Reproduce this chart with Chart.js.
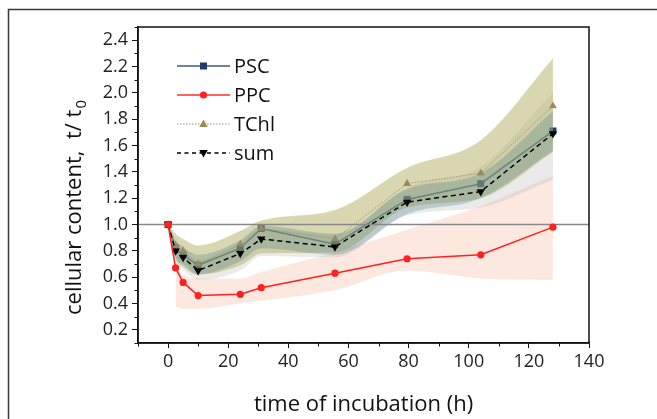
<!DOCTYPE html>
<html>
<head>
<meta charset="utf-8">
<title>cellular content vs time of incubation</title>
<script src="https://cdn.jsdelivr.net/npm/chart.js@4.4.1/dist/chart.umd.min.js"></script>
<style>
html, body { margin: 0; padding: 0; background: #fff; }
#wrap { width: 657px; height: 419px; position: relative; }
</style>
</head>
<body>
<div id="wrap"><canvas id="contentChart"></canvas></div>
<script>
// sampling times (h)
const hours = [0, 2.5, 5, 10, 24, 31, 55.5, 79.5, 104, 128];

// mean values, relative to t0
const psc  = [1.00, 0.82, 0.77, 0.69, 0.82, 0.97, 0.85, 1.19, 1.31, 1.71];
const ppc  = [1.00, 0.67, 0.56, 0.46, 0.47, 0.52, 0.63, 0.74, 0.77, 0.98];
const tchl = [1.00, 0.84, 0.80, 0.70, 0.85, 0.97, 0.89, 1.31, 1.39, 1.90];
const sum  = [1.00, 0.80, 0.75, 0.65, 0.78, 0.89, 0.83, 1.17, 1.25, 1.69];

// shaded envelopes (upper / lower)
const pscHigh  = [1.00, 0.88, 0.83, 0.77, 0.88, 0.99, 0.93, 1.27, 1.39, 1.86];
const pscLow   = [1.00, 0.75, 0.70, 0.62, 0.72, 0.82, 0.77, 1.08, 1.20, 1.56];
const tchlHigh = [1.00, 0.93, 0.89, 0.84, 0.95, 1.03, 1.11, 1.43, 1.64, 2.26];
const tchlLow  = [1.00, 0.74, 0.68, 0.62, 0.69, 0.78, 0.79, 1.13, 1.20, 1.55];
const sumHigh  = [1.00, 0.86, 0.81, 0.73, 0.86, 0.97, 0.92, 1.28, 1.44, 2.00];
const sumLow   = [1.00, 0.72, 0.66, 0.58, 0.65, 0.76, 0.75, 1.07, 1.13, 1.34];
const ppcBandHours = [2.5, 5, 10, 24, 31, 55.5, 79.5, 104, 128];
const ppcHigh  = [0.67, 0.62, 0.59, 0.59, 0.64, 0.79, 0.96, 1.14, 1.37];
const ppcLow   = [0.38, 0.36, 0.36, 0.40, 0.42, 0.50, 0.65, 0.59, 0.58];

const refLevel = 1.0;
const xRange = [-10, 140];
const yRange = [0.1, 2.5];
const xTicks = [0, 20, 40, 60, 80, 100, 120, 140];
const xMinor = [-10, 10, 30, 50, 70, 90, 110, 130];
const yTicks = [0.2, 0.4, 0.6, 0.8, 1.0, 1.2, 1.4, 1.6, 1.8, 2.0, 2.2, 2.4];
const yMinor = [0.1, 0.3, 0.5, 0.7, 0.9, 1.1, 1.3, 1.5, 1.7, 1.9, 2.1, 2.3, 2.5];

const FONT = "'Open Sans', 'DejaVu Sans', sans-serif";

function pts(xs, ys) {
    return xs.map((x, i) => ({ x: x, y: ys[i] }));
}

function band(name, xs, hi, lo, color, order) {
    const common = {
        pointRadius: 0,
        borderWidth: 0,
        cubicInterpolationMode: 'monotone',
        order: order
    };
    return [
        Object.assign({ label: name + ' hi', data: pts(xs, hi), fill: '+1', backgroundColor: color }, common),
        Object.assign({ label: name + ' lo', data: pts(xs, lo), fill: false }, common)
    ];
}

const legendItems = [
    { label: 'PSC',  line: '#3d5a80', width: 1.5, dash: [],         marker: 'square', fill: '#1f3d6e' },
    { label: 'PPC',  line: '#ff3030', width: 1.5, dash: [],         marker: 'circle', fill: '#ff2020' },
    { label: 'TChl', line: '#a8946a', width: 1,   dash: [1.5, 1.5], marker: 'up',     fill: '#9c8a5c' },
    { label: 'sum',  line: '#000000', width: 1.5, dash: [4, 3.5],   marker: 'down',   fill: '#000000' }
];

function drawMarker(ctx, kind, x, y, color) {
    ctx.fillStyle = color;
    ctx.beginPath();
    if (kind === 'square') {
        ctx.rect(x - 3.5, y - 3.5, 7, 7);
    } else if (kind === 'circle') {
        ctx.arc(x, y, 3.6, 0, Math.PI * 2);
    } else if (kind === 'up') {
        ctx.moveTo(x, y - 4.6); ctx.lineTo(x + 4.3, y + 2.9); ctx.lineTo(x - 4.3, y + 2.9);
    } else {
        ctx.moveTo(x, y + 4.6); ctx.lineTo(x + 4.3, y - 2.9); ctx.lineTo(x - 4.3, y - 2.9);
    }
    ctx.closePath();
    ctx.fill();
}

const decorPlugin = {
    id: 'decor',
    beforeDraw(chart) {
        const ctx = chart.ctx;
        ctx.save();
        ctx.fillStyle = '#fff';
        ctx.fillRect(0, 0, chart.width, chart.height);
        ctx.strokeStyle = '#3a3a3a';
        ctx.lineWidth = 1.5;
        ctx.strokeRect(8.5, 9.5, chart.width + 20, chart.height + 20);
        ctx.restore();
    },
    afterDraw(chart) {
        const { ctx, chartArea: a, scales: { x, y } } = chart;
        ctx.save();
        // plot frame
        ctx.strokeStyle = '#111';
        ctx.lineWidth = 1.5;
        ctx.strokeRect(a.left, a.top, a.right - a.left, a.bottom - a.top);
        // minor ticks
        ctx.lineWidth = 1;
        yMinor.forEach(v => {
            const py = Math.round(y.getPixelForValue(v)) + 0.5;
            ctx.beginPath(); ctx.moveTo(a.left - 3.5, py); ctx.lineTo(a.left, py); ctx.stroke();
        });
        xMinor.forEach(v => {
            const px = Math.round(x.getPixelForValue(v)) + 0.5;
            ctx.beginPath(); ctx.moveTo(px, a.bottom); ctx.lineTo(px, a.bottom + 3.5); ctx.stroke();
        });

        // y axis title with subscript
        ctx.fillStyle = '#111';
        ctx.translate(75, 208);
        ctx.rotate(-Math.PI / 2);
        ctx.font = '22px ' + FONT;
        ctx.textBaseline = 'middle';
        const main = 'cellular content,  t/ t';
        const wMain = ctx.measureText(main).width;
        ctx.font = '15px ' + FONT;
        const wSub = ctx.measureText('0').width;
        const start = -(wMain + wSub) / 2;
        ctx.font = '22px ' + FONT;
        ctx.textAlign = 'left';
        ctx.fillText(main, start, 0);
        ctx.font = '15px ' + FONT;
        ctx.fillText('0', start + wMain + 1, 7);
        ctx.setTransform(1, 0, 0, 1, 0, 0);

        // legend
        const rowY = [66, 95, 124, 153];
        legendItems.forEach((it, i) => {
            const ly = rowY[i];
            ctx.strokeStyle = it.line;
            ctx.lineWidth = it.width;
            ctx.setLineDash(it.dash);
            ctx.beginPath(); ctx.moveTo(177, ly); ctx.lineTo(230, ly); ctx.stroke();
            ctx.setLineDash([]);
            drawMarker(ctx, it.marker, 203.5, ly, it.fill);
            ctx.fillStyle = '#111';
            ctx.font = '20px ' + FONT;
            ctx.textAlign = 'left';
            ctx.textBaseline = 'middle';
            ctx.fillText(it.label, 234, ly + 1);
        });
        ctx.restore();
    }
};

const datasets = [].concat(
    band('PPC', ppcBandHours, ppcHigh, ppcLow, 'rgba(250, 190, 165, 0.35)', 10),
    band('sum', hours, sumHigh, sumLow, 'rgba(170, 170, 170, 0.25)', 9),
    [{
        label: 'PSC', data: pts(hours, psc), borderColor: '#3d5a80', borderWidth: 1.5,
        pointStyle: 'rect', pointRadius: 5, pointBackgroundColor: '#1f3d6e', pointBorderWidth: 0,
        fill: false, tension: 0, order: 8
    }],
    band('TChl', hours, tchlHigh, tchlLow, 'rgba(180, 175, 100, 0.5)', 7),
    band('PSC', hours, pscHigh, pscLow, 'rgba(80, 130, 140, 0.3)', 6),
    [{
        label: 'ref', data: [{ x: xRange[0], y: refLevel }, { x: xRange[1], y: refLevel }],
        borderColor: '#888', borderWidth: 1.5, pointRadius: 0, fill: false, order: 5
    }, {
        label: 'TChl', data: pts(hours, tchl), borderColor: '#a8946a', borderWidth: 1, borderDash: [1.5, 1.5],
        pointStyle: 'triangle', pointRadius: 4.6, pointBackgroundColor: '#9c8a5c', pointBorderWidth: 0,
        fill: false, tension: 0, order: 4
    }, {
        label: 'sum', data: pts(hours, sum), borderColor: '#000', borderWidth: 1.5, borderDash: [5, 3.5],
        pointStyle: 'triangle', pointRotation: 180, pointRadius: 4.8, pointBackgroundColor: '#000', pointBorderWidth: 0,
        fill: false, tension: 0, order: 3
    }, {
        label: 'PPC', data: pts(hours, ppc), borderColor: '#ff2020', borderWidth: 1.5,
        pointStyle: 'circle', pointRadius: 3.6, pointBackgroundColor: '#ff2020', pointBorderWidth: 0,
        fill: false, tension: 0, order: 2
    }]
);

new Chart(document.getElementById('contentChart'), {
    type: 'line',
    data: { datasets: datasets },
    options: {
        responsive: true,
        maintainAspectRatio: false,
        animation: false,
        devicePixelRatio: 1,
        layout: { padding: { top: 27, right: 68, left: 0, bottom: 0 } },
        plugins: {
            legend: { display: false },
            tooltip: { enabled: false }
        },
        scales: {
            x: {
                type: 'linear',
                min: xRange[0],
                max: xRange[1],
                afterBuildTicks: s => { s.ticks = xTicks.map(v => ({ value: v })); },
                afterFit: s => { s.height = 76; },
                grid: { drawOnChartArea: false, drawTicks: true, tickLength: 5, tickColor: '#111', tickWidth: 1 },
                border: { display: true, color: '#111', width: 1.5 },
                ticks: { font: { family: FONT, size: 18 }, color: '#222', padding: 3, maxRotation: 0 },
                title: {
                    display: true, text: 'time of incubation (h)', color: '#111',
                    font: { family: FONT, size: 22 }, padding: { top: 0, bottom: 1 }
                }
            },
            y: {
                type: 'linear',
                min: yRange[0],
                max: yRange[1],
                afterBuildTicks: s => { s.ticks = yTicks.map(v => ({ value: v })); },
                afterFit: s => { s.width = 138; },
                grid: { drawOnChartArea: false, drawTicks: true, tickLength: 6, tickColor: '#111', tickWidth: 1 },
                border: { display: true, color: '#111', width: 1.5 },
                ticks: {
                    font: { family: FONT, size: 18 }, color: '#222', padding: 4,
                    callback: v => Number(v).toFixed(1)
                }
            }
        }
    },
    plugins: [decorPlugin]
});
</script>
</body>
</html>
